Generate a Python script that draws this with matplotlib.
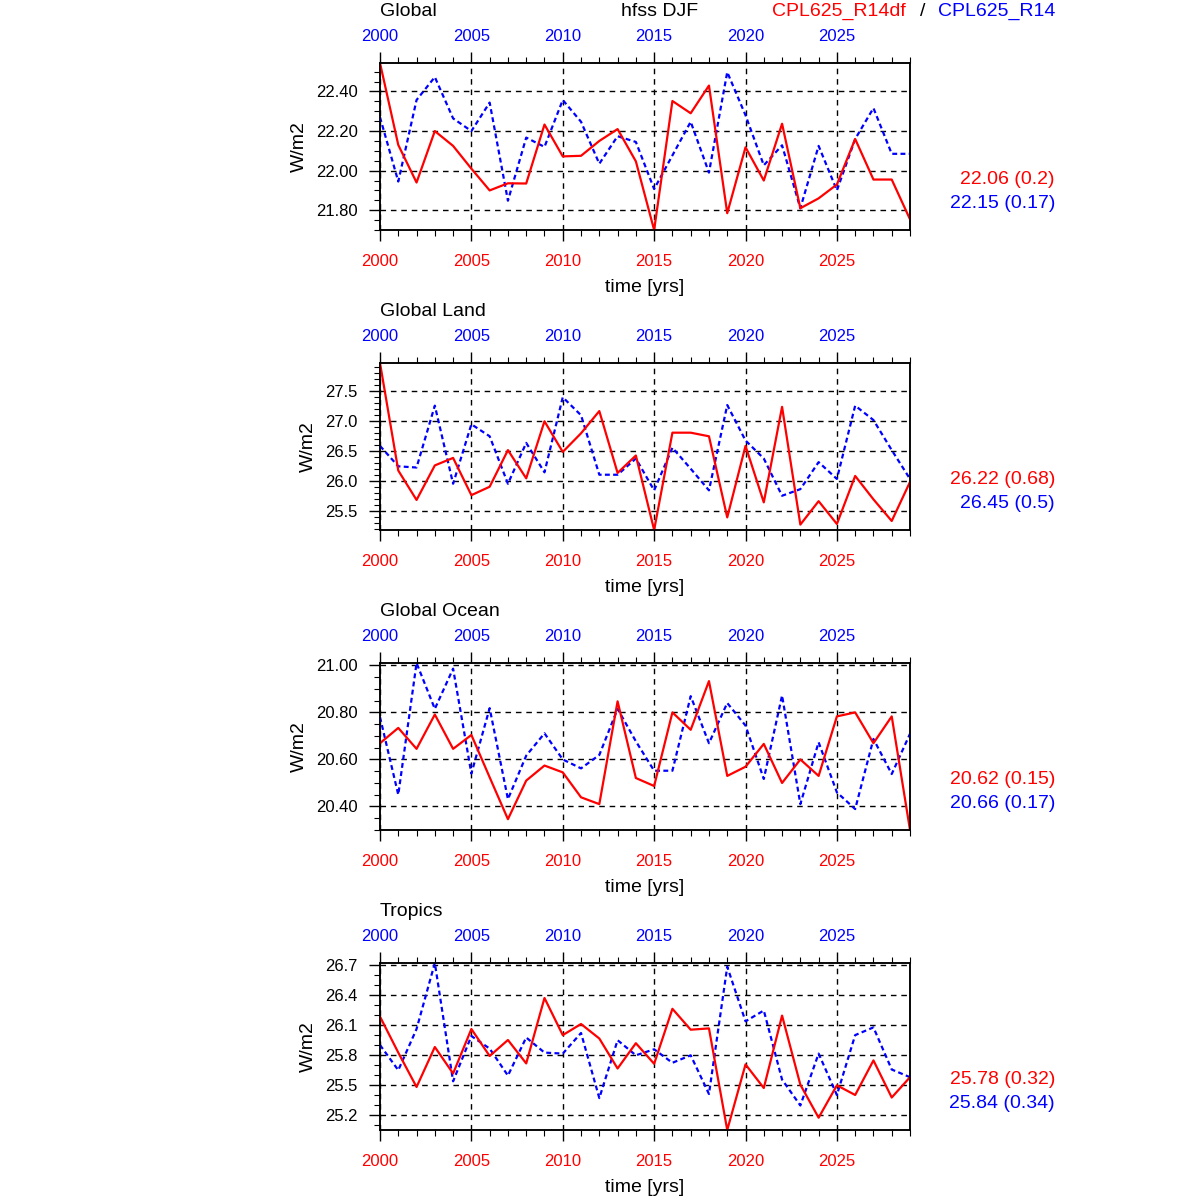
import matplotlib
matplotlib.use('Agg')
import matplotlib.pyplot as plt
from matplotlib.ticker import MultipleLocator, FormatStrFormatter

plt.rcParams['font.family'] = ['Liberation Sans', 'DejaVu Sans']

years = list(range(2000, 2030))
regions = ["Global", "Global Land", "Global Ocean", "Tropics"]

red_global = [22.544, 22.13, 21.94, 22.20, 22.125, 22.01, 21.90, 21.936, 21.935, 22.233,
              22.072, 22.075, 22.15, 22.21, 22.047, 21.70, 22.352, 22.29, 22.43, 21.785,
              22.118, 21.95, 22.237, 21.81, 21.86, 21.93, 22.16, 21.955, 21.955, 21.754]
blue_global = [22.27, 21.945, 22.357, 22.473, 22.264, 22.20, 22.344, 21.848, 22.167, 22.12,
               22.357, 22.247, 22.035, 22.174, 22.145, 21.907, 22.077, 22.247, 21.99, 22.498,
               22.28, 22.027, 22.128, 21.81, 22.125, 21.90, 22.16, 22.316, 22.085, 22.085]

red_land = [27.97, 26.18, 25.69, 26.265, 26.39, 25.77, 25.91, 26.52, 26.05, 27.0,
            26.49, 26.80, 27.17, 26.14, 26.43, 25.19, 26.81, 26.81, 26.75, 25.40,
            26.59, 25.65, 27.24, 25.28, 25.67, 25.29, 26.09, 25.70, 25.34, 25.99]
blue_land = [26.59, 26.25, 26.23, 27.26, 25.96, 26.95, 26.75, 25.96, 26.64, 26.15,
             27.40, 27.10, 26.11, 26.11, 26.38, 25.85, 26.56, 26.21, 25.85, 27.27,
             26.68, 26.38, 25.76, 25.87, 26.32, 26.04, 27.26, 27.02, 26.52, 26.04]

red_ocean = [20.669, 20.734, 20.645, 20.791, 20.645, 20.704, 20.524, 20.346, 20.51, 20.574,
             20.545, 20.439, 20.41, 20.847, 20.521, 20.487, 20.80, 20.726, 20.933, 20.53,
             20.569, 20.666, 20.50, 20.60, 20.53, 20.783, 20.80, 20.669, 20.783, 20.30]
blue_ocean = [20.78, 20.45, 21.01, 20.815, 20.986, 20.54, 20.818, 20.431, 20.616, 20.711,
              20.60, 20.562, 20.619, 20.815, 20.677, 20.552, 20.552, 20.869, 20.669, 20.84,
              20.744, 20.517, 20.872, 20.41, 20.673, 20.46, 20.389, 20.687, 20.538, 20.709]

red_tropics = [26.184, 25.824, 25.48, 25.88, 25.615, 26.06, 25.79, 25.95, 25.716, 26.37,
               25.999, 26.11, 25.965, 25.665, 25.918, 25.712, 26.262, 26.053, 26.066, 25.05,
               25.706, 25.47, 26.194, 25.503, 25.173, 25.497, 25.40, 25.746, 25.375, 25.578]
blue_tropics = [25.90, 25.648, 26.06, 26.72, 25.537, 25.99, 25.864, 25.594, 25.975, 25.824,
                25.814, 26.02, 25.369, 25.948, 25.797, 25.857, 25.722, 25.797, 25.41, 26.683,
                26.137, 26.245, 25.554, 25.295, 25.814, 25.40, 25.999, 26.076, 25.655, 25.578]

red_series = [red_global, red_land, red_ocean, red_tropics]
blue_series = [blue_global, blue_land, blue_ocean, blue_tropics]

mean_red = [22.06, 26.22, 20.62, 25.78]
std_red = [0.2, 0.68, 0.15, 0.32]
mean_blue = [22.15, 26.45, 20.66, 25.84]
std_blue = [0.17, 0.5, 0.17, 0.34]

major_step = [0.2, 0.5, 0.2, 0.3]
minor_step = [0.05, 0.1, 0.05, 0.1]
fmts = ['%.2f', '%.1f', '%.2f', '%.1f']

W = H = 1200.0
fig = plt.figure(figsize=(12, 12), dpi=100)

ax_left, ax_right = 380, 910
tops = [63, 363, 663, 963]
ax_h = 167

for i in range(4):
    top = tops[i]
    ax = fig.add_axes([ax_left / W, 1 - (top + ax_h) / H, (ax_right - ax_left) / W, ax_h / H])
    r = red_series[i]
    b = blue_series[i]
    ax.plot(years, b, color='blue', lw=1.6, linestyle=(0, (2.2, 1.5)), zorder=3)
    ax.plot(years, r, color='red', lw=1.6, zorder=4)
    lo = min(min(r), min(b))
    hi = max(max(r), max(b))
    ax.set_xlim(2000, 2029)
    ax.set_ylim(lo, hi)

    ax.xaxis.set_major_locator(MultipleLocator(5))
    ax.xaxis.set_minor_locator(MultipleLocator(1))
    ax.yaxis.set_major_locator(MultipleLocator(major_step[i]))
    ax.yaxis.set_minor_locator(MultipleLocator(minor_step[i]))
    ax.yaxis.set_major_formatter(FormatStrFormatter(fmts[i]))

    ax.tick_params(axis='both', which='major', direction='out', length=8, width=1.0,
                   labelsize=12, pad=8)
    ax.tick_params(axis='both', which='minor', direction='out', length=4, width=0.8)
    ax.tick_params(axis='x', which='both', top=False, bottom=True, labeltop=False,
                   labelbottom=True, labelcolor='red')
    ax.tick_params(axis='x', which='major', pad=9.5)
    ax.tick_params(axis='y', which='both', left=True, right=False)

    ax2 = ax.twiny()
    ax2.set_xlim(2000, 2029)
    ax2.xaxis.set_major_locator(MultipleLocator(5))
    ax2.xaxis.set_minor_locator(MultipleLocator(1))
    ax2.tick_params(axis='x', which='major', direction='out', length=8, width=1.0,
                    labelsize=12, pad=5.5, labelcolor='blue')
    ax2.tick_params(axis='x', which='minor', direction='out', length=4, width=0.8)
    for s in ax2.spines.values():
        s.set_linewidth(1.1)

    for s in ax.spines.values():
        s.set_linewidth(1.1)

    ax.grid(True, which='major', color='black', linestyle=(0, (4, 3.5)), lw=1.0, zorder=1)

    ax.set_ylabel('W/m2', fontsize=14, labelpad=6)
    ax.set_xlabel('time [yrs]', fontsize=14, labelpad=7)

    fig.text(ax_left / W, 1 - (top - 52) / H, regions[i], fontsize=14, ha='left', va='center')

    yc = top + 116
    fig.text(1055 / W, 1 - yc / H, f"{mean_red[i]} ({std_red[i]})", color='red',
             fontsize=14, ha='right', va='center')
    fig.text(1055 / W, 1 - (yc + 24) / H, f"{mean_blue[i]} ({std_blue[i]})", color='blue',
             fontsize=14, ha='right', va='center')

fig.text(660 / W, 1 - 11 / H, 'hfss DJF', fontsize=14, ha='center', va='center')
fig.text(906 / W, 1 - 11 / H, 'CPL625_R14df', fontsize=14, color='red', ha='right', va='center')
fig.text(923 / W, 1 - 11 / H, '/', fontsize=14, color='black', ha='center', va='center')
fig.text(938 / W, 1 - 11 / H, 'CPL625_R14', fontsize=14, color='blue', ha='left', va='center')

fig.savefig('out.png', dpi=100)
